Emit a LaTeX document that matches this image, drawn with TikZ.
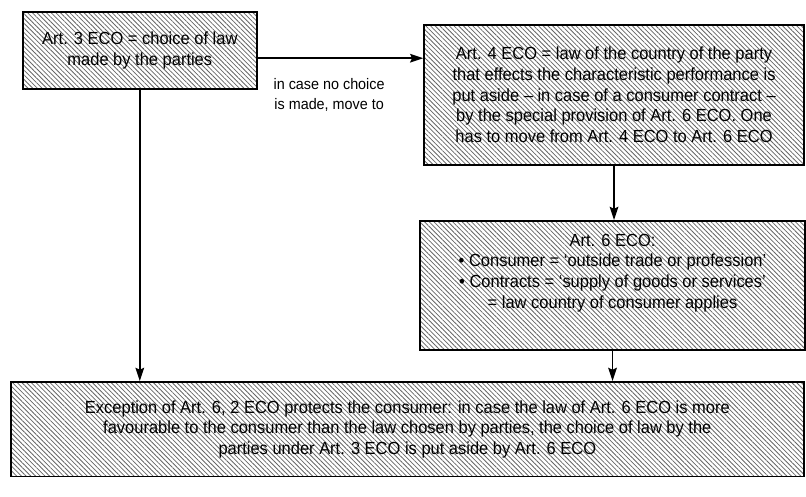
\documentclass[tikz,border=0pt]{standalone}
\usepackage{fontspec}
\setmainfont{Liberation Sans}[FakeStretch=0.94]
\usepackage{tikz}
\usetikzlibrary{arrows.meta,positioning,calc,patterns.meta}
\tikzset{
  hbox/.style={draw=black,line width=1.2pt,align=center,inner sep=4pt,
    pattern={Lines[angle=-45,distance=2.5pt,line width=0.6pt]},pattern color=black!60,
    font=\fontsize{13.2}{15.5}\selectfont},
  htxt/.style={align=center,inner sep=0pt,font=\fontsize{13.2}{15.5}\selectfont},
  arr/.style={-{Stealth[length=10pt,width=6.5pt,inset=1.5pt]},line width=1.3pt},
  lbl/.style={font=\fontsize{11.5}{15.5}\selectfont,align=center,inner sep=2pt},
}

\begin{document}
\begin{tikzpicture}[x=1cm,y=1cm]
    \useasboundingbox (0,0) rectangle (21.33,-13.15);
    % boxes
    \node[hbox,minimum width=6.19cm,minimum height=2.04cm] (art3) at (3.70,-1.34)
      {Art. 3 ECO = choice of law\\made by the parties};
    \node[hbox,minimum width=10.05cm,minimum height=3.70cm] (art4) at (16.25,-2.51)
      {Art. 4 ECO = law of the country of the party\\
       that effects the characteristic performance is\\
       put aside -- in case of a consumer contract --\\
       by the special provision of Art. 6 ECO. One\\
       has to move from Art. 4 ECO to Art. 6 ECO};
    \node[hbox,minimum width=10.19cm,minimum height=3.41cm] (art6) at (16.21,-7.55) {};
    \node[htxt] (art6txt) at ([yshift=0.33cm]art6.center)
      {Art. 6 ECO:\\
       \textbullet\ Consumer = `outside trade or profession'\\
       \textbullet\ Contracts = `supply of goods or services'\\
       = law country of consumer applies};
    \node[hbox,minimum width=20.98cm,minimum height=2.51cm] (exc) at (10.78,-11.36)
      {Exception of Art. 6, 2 ECO protects the consumer: in case the law of Art. 6 ECO is more\\
       favourable to the consumer than the law chosen by parties, the choice of law by the\\
       parties under Art. 3 ECO is put aside by Art. 6 ECO};
    \node[lbl] (nochoice) at (8.71,-2.51) {in case no choice\\is made, move to};
    % arrows
    \draw[arr] ([yshift=-0.2cm]art3.east) -- ([yshift=-0.2cm]art3.east -| art4.west);
    \draw[arr] (art4.south) -- (art4.south |- art6.north);
    \draw[arr] (art6.south) -- (art6.south |- exc.north);
    \draw[arr] (art3.south) -- (art3.south |- exc.north);
\end{tikzpicture}
\end{document}
